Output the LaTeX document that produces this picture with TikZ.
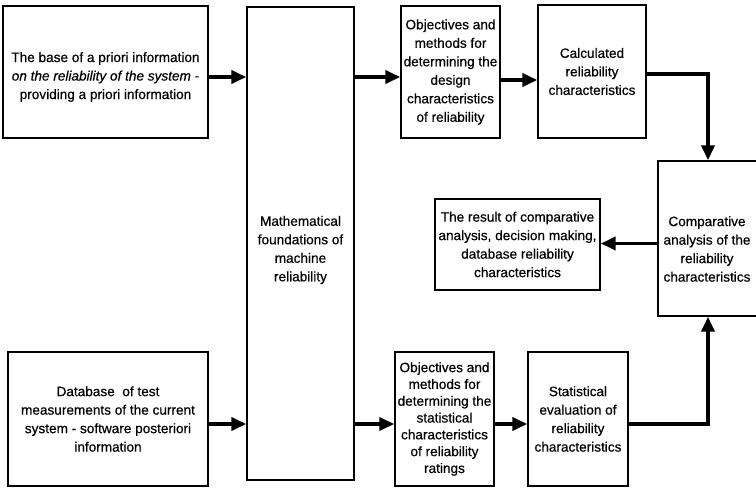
\documentclass[tikz,border=0pt]{standalone}
\usepackage{fontspec}
\setmainfont{Liberation Sans}[RawFeature={embolden=0.5}]
\usetikzlibrary{arrows.meta,calc}
\begin{document}
\begin{tikzpicture}[x=1pt,y=-1pt,
  box/.style={draw,line width=1.4pt,inner sep=0pt,align=center,
    font=\fontsize{13.6}{18.5}\selectfont},
  txt/.style={inner sep=0pt,align=center,font=\fontsize{13.6}{18.5}\selectfont},
  arr/.style={line width=3.8pt,-{Triangle[length=15pt,width=13pt]}}]
\useasboundingbox (0,0) rectangle (756,488);
\clip (0,0) rectangle (756,488);

% upper branch
\node[box,minimum width=205pt,minimum height=132pt] (A) at (105.5,72) {};
\node[txt] (At) at (105.5,77) {The base of a priori information\\
  \textit{on the reliability of the system} -\\
  providing a priori information};
\node[box,minimum width=107pt,minimum height=473pt] (M) at (300.5,243.5) {};
\node[txt] (Mt) at (300.5,250) {Mathematical\\foundations of\\machine\\reliability};
\node[box,minimum width=99pt,minimum height=132pt] (O1) at (450.5,72)
  {Objectives and\\methods for\\determining the\\design\\characteristics\\of reliability};
\node[box,minimum width=108pt,minimum height=133pt] (C) at (592,71.5)
  {Calculated\\reliability\\characteristics};

% comparison and result
\node[box,minimum width=106pt,minimum height=155pt] (Cmp) at (711,238.5) {};
\node[txt] (Cmpt) at (707,249) {Comparative\\analysis of the\\reliability\\characteristics};
\node[box,minimum width=165pt,minimum height=91pt] (R) at (517.5,244.5)
  {The result of comparative\\analysis, decision making,\\database reliability\\characteristics};

% lower branch
\node[box,minimum width=200pt,minimum height=134pt] (D) at (108,419)
  {Database\ \ of test\\measurements of the current\\system - software posteriori\\information};
\node[box,minimum width=99pt,minimum height=134pt,
  font=\fontsize{13.6}{16.8}\selectfont] (O2) at (444.5,419)
  {Objectives and\\methods for\\determining the\\statistical\\characteristics\\of reliability\\ratings};
\node[box,minimum width=100pt,minimum height=134pt] (S) at (578,419)
  {Statistical\\evaluation of\\reliability\\characteristics};

% connectors
\coordinate (ya) at ([yshift=-5pt]A.east);
\coordinate (yb) at ([yshift=-5pt]D.east);
\draw[arr] (ya) -- (ya -| M.west);
\draw[arr] (ya -| M.east) -- (ya -| O1.west);
\draw[arr] ([yshift=-8pt]O1.east) -- ([yshift=-8pt]O1.east -| C.west);
\draw[arr] ([yshift=-2.5pt]C.east) -| ([xshift=-3pt]Cmp.north);
\draw[arr] ([yshift=-5pt]Cmp.west) -- ([yshift=-5pt]Cmp.west -| R.east);
\draw[arr] (yb) -- (yb -| M.west);
\draw[arr] (yb -| M.east) -- (yb -| O2.west);
\draw[arr] (yb -| O2.east) -- (yb -| S.west);
\draw[arr] (yb -| S.east) -| ([xshift=-3pt]Cmp.south);
\end{tikzpicture}
\end{document}
